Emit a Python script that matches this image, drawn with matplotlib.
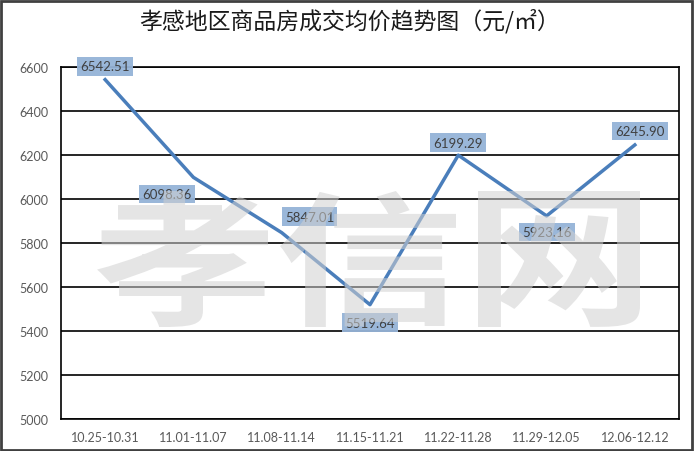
import matplotlib.pyplot as plt
from matplotlib.patches import Rectangle, PathPatch
from matplotlib.textpath import TextPath
from matplotlib.font_manager import FontProperties
from matplotlib.transforms import Affine2D

plt.rcParams['font.family'] = ['Lato', 'DejaVu Sans']

weeks = ["10.25-10.31", "11.01-11.07", "11.08-11.14", "11.15-11.21",
         "11.22-11.28", "11.29-12.05", "12.06-12.12"]
prices = [6542.51, 6098.36, 5847.01, 5519.64, 6199.29, 5923.16, 6245.90]
yticks = [5000, 5200, 5400, 5600, 5800, 6000, 6200, 6400, 6600]

# label offsets in points (dx, dy)
offsets = [(0, 9.5), (-19, -12), (20, 11.5), (0, -13), (0, 9), (0, -11.5), (3.6, 10)]

W, H = 700, 452
fig = plt.figure(figsize=(7, 4.52), dpi=100)
ax = fig.add_axes([61 / W, 1 - 420 / H, 618 / W, 352 / H])

x = list(range(len(weeks)))
ax.plot(x, prices, color="#4a7ebb", lw=2.5, zorder=3)

for i, v in enumerate(prices):
    ax.annotate("%.2f" % v, (i, v), xytext=offsets[i], textcoords="offset points",
                ha="center", va="center", fontsize=9.5, color="#404040", zorder=5,
                bbox=dict(boxstyle="square,pad=0.25", fc="#95b3d7", ec="none", alpha=0.95))

ax.set_xlim(-0.5, 6.5)
ax.set_ylim(5000, 6600)
ax.set_yticks(yticks)
ax.set_xticks(x)
ax.set_xticklabels(weeks)
ax.yaxis.grid(True, color="black", lw=1.2)
ax.set_axisbelow(True)
for s in ax.spines.values():
    s.set_color("black")
    s.set_linewidth(1.2)
ax.tick_params(length=0, labelsize=9, colors="#595959", pad=9)

# watermark over the chart, each glyph stretched into its box (pixels from top-left)
wm_font = FontProperties(family="Noto Sans CJK SC", weight="bold")
wm_boxes = [("孝", 97, 268), ("信", 280, 456), ("网", 478, 640)]
for ch, x0, x1 in wm_boxes:
    tp = TextPath((0, 0), ch, size=1, prop=wm_font)
    ext = tp.get_extents()
    y0, y1 = 1 - 328 / H, 1 - 192 / H
    tr = (Affine2D().translate(-ext.x0, -ext.y0)
          .scale((x1 - x0) / W / ext.width, (y1 - y0) / ext.height)
          .translate(x0 / W, y0))
    fig.patches.append(PathPatch(tr.transform_path(tp), transform=fig.transFigure,
                                 fc="#d0d0d0", ec="none", alpha=0.55, zorder=10))

fig.text(0.5, 1 - 21 / H, "孝感地区商品房成交均价趋势图（元/㎡）", fontsize=16.5,
         ha="center", va="center", color="#1a1a1a",
         family=["Noto Sans CJK SC", "DejaVu Sans"])

fig.patches.append(Rectangle((1 / W, 1 / H), 691 / W, 449 / H,
                             transform=fig.transFigure, fill=False,
                             ec="#404040", lw=2))

fig.savefig("out.png", dpi=100)
